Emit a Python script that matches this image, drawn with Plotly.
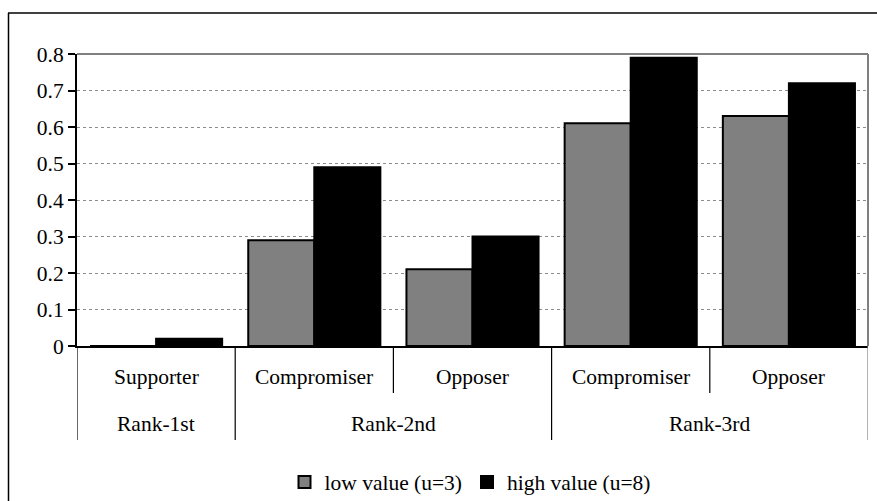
import plotly.graph_objects as go

# ---- data ----
roles = ["Supporter", "Compromiser", "Opposer", "Compromiser", "Opposer"]
rank_groups = ["Rank-1st", "Rank-2nd", "Rank-3rd"]
rank_of_role = [0, 1, 1, 2, 2]
low_values = [0.0, 0.29, 0.21, 0.61, 0.63]
high_values = [0.02, 0.49, 0.30, 0.79, 0.72]
series_names = ["low value (u=3)", "high value (u=8)"]
y_ticks = [0, 0.1, 0.2, 0.3, 0.4, 0.5, 0.6, 0.7, 0.8]

# ---- layout constants (pixels) ----
W, H = 877, 501
ML, MR, MT, MB = 77, 9, 54, 155
PW = W - ML - MR
PH = H - MT - MB
FONT = "Liberation Serif"
FS = 21.5

def py(pix_y):
    """pixel y (from top) -> paper y"""
    return (H - MB - pix_y) / PH

def px(pix_x):
    return (pix_x - ML) / PW

xs = list(range(len(roles)))

fig = go.Figure()
fig.add_trace(go.Bar(x=xs, y=low_values, name=series_names[0],
                     marker=dict(color="#808080", line=dict(color="black", width=2))))
fig.add_trace(go.Bar(x=xs, y=high_values, name=series_names[1],
                     marker=dict(color="black", line=dict(color="black", width=2))))

shapes = []
annotations = []
# category boundaries
group_bounds = set()
for g in range(len(rank_groups)):
    idx = [i for i, r in enumerate(rank_of_role) if r == g]
    group_bounds.add(min(idx) - 0.5)
    group_bounds.add(max(idx) + 0.5)
    annotations.append(dict(x=sum(idx) / len(idx), y=py(424), xref="x", yref="paper",
                            text=rank_groups[g], showarrow=False,
                            font=dict(family=FONT, size=FS, color="black"),
                            xanchor="center", yanchor="middle"))
for i in range(len(roles) + 1):
    b = i - 0.5
    full = b in group_bounds
    color = "#808080" if b == len(roles) - 0.5 else "black"
    shapes.append(dict(type="line", xref="x", yref="paper", x0=b, x1=b,
                       y0=0, y1=py(440 if full else 393),
                       line=dict(color=color, width=1.2)))
for i, r in enumerate(roles):
    annotations.append(dict(x=i, y=py(377), xref="x", yref="paper", text=r,
                            showarrow=False, font=dict(family=FONT, size=FS, color="black"),
                            xanchor="center", yanchor="middle"))

# plot-area top and right border (gray)
shapes.append(dict(type="line", xref="paper", yref="paper", x0=0, x1=1, y0=1, y1=1,
                   line=dict(color="#808080", width=2)))
shapes.append(dict(type="line", xref="paper", yref="paper", x0=1, x1=1, y0=0, y1=1,
                   line=dict(color="#808080", width=2)))
# outer chart border (top and left visible)
shapes.append(dict(type="line", xref="paper", yref="paper", x0=px(8), x1=px(W + 5),
                   y0=py(13), y1=py(13), line=dict(color="black", width=1.5)))
shapes.append(dict(type="line", xref="paper", yref="paper", x0=px(8.5), x1=px(8.5),
                   y0=py(13), y1=py(H + 5), line=dict(color="black", width=1.5)))

fig.update_layout(
    width=W, height=H,
    margin=dict(l=ML, r=MR, t=MT, b=MB, autoexpand=False),
    paper_bgcolor="white", plot_bgcolor="white",
    barmode="group", bargap=0.165, bargroupgap=0,
    font=dict(family=FONT, size=FS, color="black"),
    shapes=shapes, annotations=annotations,
    showlegend=True,
    legend=dict(orientation="h", x=px(470), xanchor="center", y=py(482), yanchor="middle",
                font=dict(family=FONT, size=FS, color="black"),
                itemwidth=30, tracegroupgap=0, bgcolor="rgba(0,0,0,0)"),
    xaxis=dict(range=[-0.5, len(roles) - 0.5], showticklabels=False, ticks="",
               showgrid=False, zeroline=False, showline=True, linecolor="black",
               linewidth=2, fixedrange=True, automargin=False),
    yaxis=dict(range=[0, 0.8], tickvals=y_ticks, ticktext=[f"{v:g}" for v in y_ticks],
               ticks="outside", ticklen=7, tickcolor="black", tickwidth=1.5,
               showgrid=True, gridcolor="#8c8c8c", griddash="dot", gridwidth=1,
               zeroline=False, showline=True, linecolor="black", linewidth=2,
               tickfont=dict(family=FONT, size=FS, color="black"), fixedrange=True,
               automargin=False),
)

fig.write_html("out.html", config={"displayModeBar": False},
               post_script="document.body.style.margin='0';document.body.style.overflow='hidden';")
